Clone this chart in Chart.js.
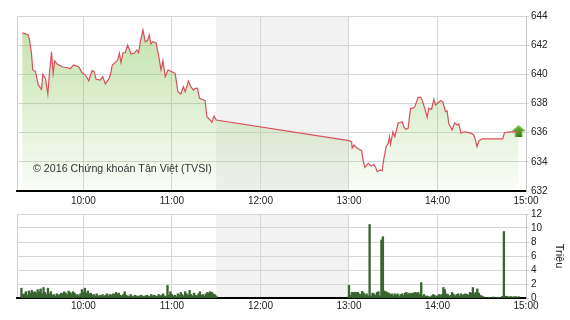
<!DOCTYPE html>
<html>
<head>
<meta charset="utf-8">
<script src="https://cdn.jsdelivr.net/npm/chart.js@4.4.0/dist/chart.umd.min.js"></script>
<style>
  body { margin: 0; background: #fff; }
  #wrap { position: relative; width: 570px; height: 320px; }
  canvas { position: absolute; left: 0; }
  #price { top: 0; }
  #vol { top: 200px; }
</style>
</head>
<body>
<div id="wrap">
  <canvas id="price" width="570" height="210"></canvas>
  <canvas id="vol" width="570" height="120"></canvas>
</div>
<script>
// time is in minutes after 9:00
const hourTicks = [60, 120, 180, 240, 300, 360];
const hourLabels = ['10:00', '11:00', '12:00', '13:00', '14:00', '15:00'];
const lunchBreak = [150, 240];

const priceTimes = [
  18.5, 20.8, 22.6, 23.5, 24.8, 25.7, 27.5, 29.4, 31.6, 32.5, 34.3, 35.9, 37.0, 38.4, 39.5, 40.6, 42.2,
  45.6, 49.0, 51.2, 53.4, 56.8, 59.1, 61.4, 63.6, 65.9, 67.4, 68.6, 71.5, 73.1, 74.9, 77.1, 78.3,
  79.6, 81.6, 83.2, 84.4, 85.5, 86.9, 88.4, 90.0, 92.3, 94.5, 96.3, 97.4, 98.6, 100.4, 101.9, 103.5,
  104.6, 105.8, 107.1, 109.2, 110.9, 112.6, 113.9, 115.5, 117.3, 120.0, 122.2, 124.1, 126.1, 127.8,
  129.0, 131.2, 132.8, 134.6, 135.8, 137.3, 138.7, 140.3, 142.5, 143.7, 145.9, 147.1, 148.6, 150.0,
  240.0, 241.8, 242.2, 243.4, 245.6, 248.6, 249.5, 250.8, 253.1, 255.1, 256.9, 258.1, 259.1, 261.4,
  262.5, 263.7, 265.2, 266.6, 267.5, 268.2, 269.8, 271.1, 273.4, 275.0, 276.1, 277.2, 278.4, 280.1,
  281.7, 283.3, 284.6, 286.9, 288.5, 289.6, 291.4, 293.0, 294.1, 296.0, 297.5, 298.7, 300.4, 302.1,
  303.6, 305.4, 306.5, 307.7, 308.8, 309.9, 311.7, 313.3, 314.4, 316.0, 317.8, 320.7, 323.0, 324.6,
  325.7, 326.8, 328.0, 330.2, 344.2, 345.4, 349.4, 352.3, 355.0
];
const priceValues = [
  642.85, 642.77, 642.70, 642.35, 641.44, 640.30, 640.20, 639.27, 638.97, 640.00, 639.70, 638.65, 640.07, 641.55, 640.07, 640.93, 640.70,
  640.52, 640.45, 640.40, 640.64, 640.52, 640.10, 639.95, 639.56, 640.25, 640.18, 639.66, 639.60, 639.84, 639.34, 639.66, 639.95,
  640.64, 640.80, 640.98, 641.44, 640.80, 641.48, 641.48, 642.00, 641.39, 641.44, 641.67, 641.48, 642.24, 643.04, 642.24, 642.31,
  642.70, 642.08, 642.24, 642.17, 641.33, 640.30, 640.93, 639.84, 640.30, 640.18, 640.07, 638.81, 638.65, 639.15,
  638.81, 639.54, 639.15, 638.92, 639.04, 639.04, 638.36, 638.29, 638.19, 637.09, 636.87, 636.71, 637.14, 636.87,
  635.45, 635.38, 634.93, 635.15, 634.93, 634.76, 634.12, 633.62, 633.90, 633.71, 633.83, 633.62, 633.32, 633.44,
  633.39, 634.24, 635.04, 635.27, 635.72, 635.22, 636.06, 635.72, 636.68, 636.68, 636.75, 636.41, 636.23, 636.30,
  637.67, 637.67, 637.78, 638.42, 638.42, 638.24, 637.67, 637.05, 637.67, 637.60, 638.29, 637.90, 638.05, 638.19,
  638.12, 637.44, 637.50, 636.59, 636.41, 636.18, 636.68, 636.52, 636.59, 635.95, 636.06, 636.02, 635.95, 635.84,
  635.50, 635.04, 635.43, 635.58, 635.58, 636.00, 636.06, 636.06, 636.10
];

// volume, one bar per minute, in millions (Triệu)
const volMorningStart = 18;
const volMorning = [
  1.4, 0.5, 0.6, 0.9, 0.4, 1.0, 0.7, 1.1, 0.8, 0.9,
  0.7, 1.2, 0.9, 1.3, 0.6, 1.5, 0.8, 0.5, 1.4, 0.6,
  0.9, 0.4, 0.5, 0.3, 0.6, 0.4, 0.5, 0.7, 0.6, 0.9,
  0.7, 0.5, 1.0, 0.8, 0.6, 0.9, 0.7, 0.4, 0.5, 0.3,
  0.6, 1.2, 0.8, 1.4, 0.7, 1.0, 0.6, 0.7, 0.4, 0.5,
  0.3, 0.6, 0.2, 0.4, 0.3, 0.5, 0.2, 0.4, 0.6, 0.3,
  0.5, 0.4, 0.6, 0.5, 0.8, 0.6, 0.7, 0.4, 0.3, 0.5,
  0.9, 0.4, 0.3, 0.2, 0.5, 0.3, 0.2, 0.4, 0.3, 0.2,
  0.3, 0.4, 0.3, 0.2, 0.3, 0.4, 0.3, 0.2, 0.5, 0.3,
  0.4, 0.3, 0.2, 0.5, 0.3, 0.4, 0.6, 0.3, 0.2, 1.8,
  0.4, 0.9, 0.5, 0.3, 0.4, 0.2, 0.6, 0.4, 0.8, 0.5,
  0.3, 0.9, 0.6, 0.4, 1.1, 0.5, 0.3, 0.7, 0.4, 0.3,
  0.6, 0.9, 0.4, 0.5, 0.3, 0.6, 0.8, 0.7, 0.9, 0.8,
  0.6, 0.5, 0.3
];
const volAfternoonStart = 240;
const volAfternoon = [
  1.8, 0.4, 0.8, 0.8, 0.8, 0.8, 0.8, 0.6, 0.5, 0.95,
  0.7, 0.4, 0.6, 0.3, 10.5, 0.3, 0.7, 0.6, 0.4, 0.8,
  0.9, 0.3, 8.3, 8.75, 1.0, 0.9, 0.8, 0.7, 0.5, 0.6,
  0.3, 0.6, 0.4, 0.6, 0.2, 0.5, 0.6, 0.4, 0.7, 0.8,
  0.5, 0.7, 0.6, 0.7, 0.7, 0.8, 0.7, 0.8, 0.5, 2.2,
  0.3, 0.5, 0.2, 0.3, 0.2, 0.1, 0.3, 0.5, 0.4, 0.2,
  0.3, 0.5, 0.4, 0.5, 1.5, 1.2, 0.6, 0.5, 0.3, 0.4,
  0.8, 0.5, 0.3, 0.5, 0.6, 0.3, 0.6, 0.4, 0.5, 0.6,
  0.5, 0.4, 0.8, 0.7, 1.5, 0.6, 0.8, 1.3, 0.7, 0.4,
  0.3, 0.2, 0, 0, 0, 0.1, 0, 0, 0.15, 0,
  0, 0.1, 0, 0, 0.25, 9.5, 0.25, 0.25, 0, 0.2,
  0.2, 0, 0.2, 0.2, 0, 0.2
];

Chart.defaults.font.family = "'Liberation Sans', Arial, sans-serif";
Chart.defaults.font.size = 10;
Chart.defaults.color = '#222';

const pricePts = priceTimes.map((t, i) => ({ x: t, y: priceValues[i] }));
const lastPt = pricePts[pricePts.length - 1];
const volPts = volMorning.map((v, i) => ({ x: volMorningStart + i, y: v }))
  .concat(volAfternoon.map((v, i) => ({ x: volAfternoonStart + i, y: v })));

// green up arrow for the last price
const arrow = document.createElement('canvas');
arrow.width = 14; arrow.height = 12;
const ac = arrow.getContext('2d');
const ag = ac.createLinearGradient(0, 0, 0, 12);
ag.addColorStop(0, '#6cc23a');
ag.addColorStop(1, '#2b7a0c');
ac.fillStyle = ag;
ac.beginPath();
ac.moveTo(7, 0); ac.lineTo(14, 6); ac.lineTo(10.5, 6); ac.lineTo(10.5, 12);
ac.lineTo(3.5, 12); ac.lineTo(3.5, 6); ac.lineTo(0, 6); ac.closePath();
ac.fill();

// lunch break shading + left border
const sessionPlugin = {
  id: 'session',
  beforeDraw(chart) {
    const { ctx, chartArea: a, scales: { x } } = chart;
    const x1 = x.getPixelForValue(lunchBreak[0]);
    const x2 = x.getPixelForValue(lunchBreak[1]);
    ctx.save();
    ctx.fillStyle = '#f2f2f2';
    ctx.fillRect(x1, a.top, x2 - x1, a.bottom - a.top);
    ctx.strokeStyle = '#d0d0d0';
    ctx.lineWidth = 1;
    ctx.beginPath();
    ctx.moveTo(a.left + 0.5, a.top);
    ctx.lineTo(a.left + 0.5, a.bottom);
    ctx.stroke();
    ctx.restore();
  }
};

const copyrightPlugin = {
  id: 'copyright',
  afterDatasetsDraw(chart) {
    const { ctx, chartArea: a } = chart;
    ctx.save();
    ctx.font = "10.7px 'Liberation Sans', Arial, sans-serif";
    ctx.fillStyle = '#333';
    ctx.textBaseline = 'middle';
    ctx.fillText('© 2016 Chứng khoán Tân Việt (TVSI)', a.left + 16, a.bottom - 22);
    ctx.restore();
  }
};

const timeAxis = (h) => ({
  type: 'linear',
  min: 15,
  max: 360,
  offset: false,
  afterBuildTicks: s => { s.ticks = hourTicks.map(v => ({ value: v })); },
  ticks: {
    autoSkip: false,
    maxRotation: 0,
    padding: 4,
    callback: v => hourLabels[hourTicks.indexOf(v)]
  },
  grid: { color: '#d6d6d6', drawTicks: false, offset: false },
  border: { color: '#000', width: 2 },
  afterFit: s => { s.height = h; }
});

const priceGradient = (c) => {
  const a = c.chart.chartArea;
  if (!a) return 'rgba(130,195,80,0.3)';
  const g = c.chart.ctx.createLinearGradient(0, a.top, 0, a.bottom);
  g.addColorStop(0, 'rgba(130,195,80,0.5)');
  g.addColorStop(1, 'rgba(130,195,80,0.04)');
  return g;
};

new Chart(document.getElementById('price'), {
  type: 'line',
  data: {
    datasets: [
      {
        data: pricePts,
        borderColor: '#d9505a',
        borderWidth: 1.2,
        pointRadius: 0,
        fill: 'start',
        backgroundColor: priceGradient
      },
      {
        data: [lastPt],
        showLine: false,
        pointStyle: arrow,
        pointRadius: 7
      }
    ]
  },
  options: {
    responsive: false,
    animation: false,
    layout: { padding: { left: 17, top: 16, right: 0, bottom: 0 } },
    plugins: { legend: { display: false }, tooltip: { enabled: false } },
    scales: {
      x: timeAxis(19),
      y: {
        position: 'right',
        min: 632,
        max: 644,
        ticks: { stepSize: 2, padding: 2, autoSkip: false },
        grid: { color: '#d6d6d6', tickLength: 3 },
        border: { color: '#c8c8c8' },
        afterFit: s => { s.width = 44; }
      }
    }
  },
  plugins: [sessionPlugin, copyrightPlugin]
});

const volX = timeAxis(22);
volX.ticks.padding = 2;

new Chart(document.getElementById('vol'), {
  type: 'bar',
  data: {
    datasets: [{
      data: volPts,
      backgroundColor: '#3a6530',
      barThickness: 1.7
    }]
  },
  options: {
    responsive: false,
    animation: false,
    layout: { padding: { left: 17, top: 14, right: 0, bottom: 0 } },
    plugins: { legend: { display: false }, tooltip: { enabled: false } },
    scales: {
      x: volX,
      y: {
        position: 'right',
        min: 0,
        max: 12,
        ticks: { stepSize: 2, padding: 2, autoSkip: false },
        grid: { color: '#d6d6d6', tickLength: 3 },
        border: { color: '#c8c8c8' },
        title: { display: true, text: 'Triệu', font: { size: 11 }, color: '#222', padding: 4 },
        afterFit: s => { s.width = 44; }
      }
    }
  },
  plugins: [sessionPlugin]
});
</script>
</body>
</html>
